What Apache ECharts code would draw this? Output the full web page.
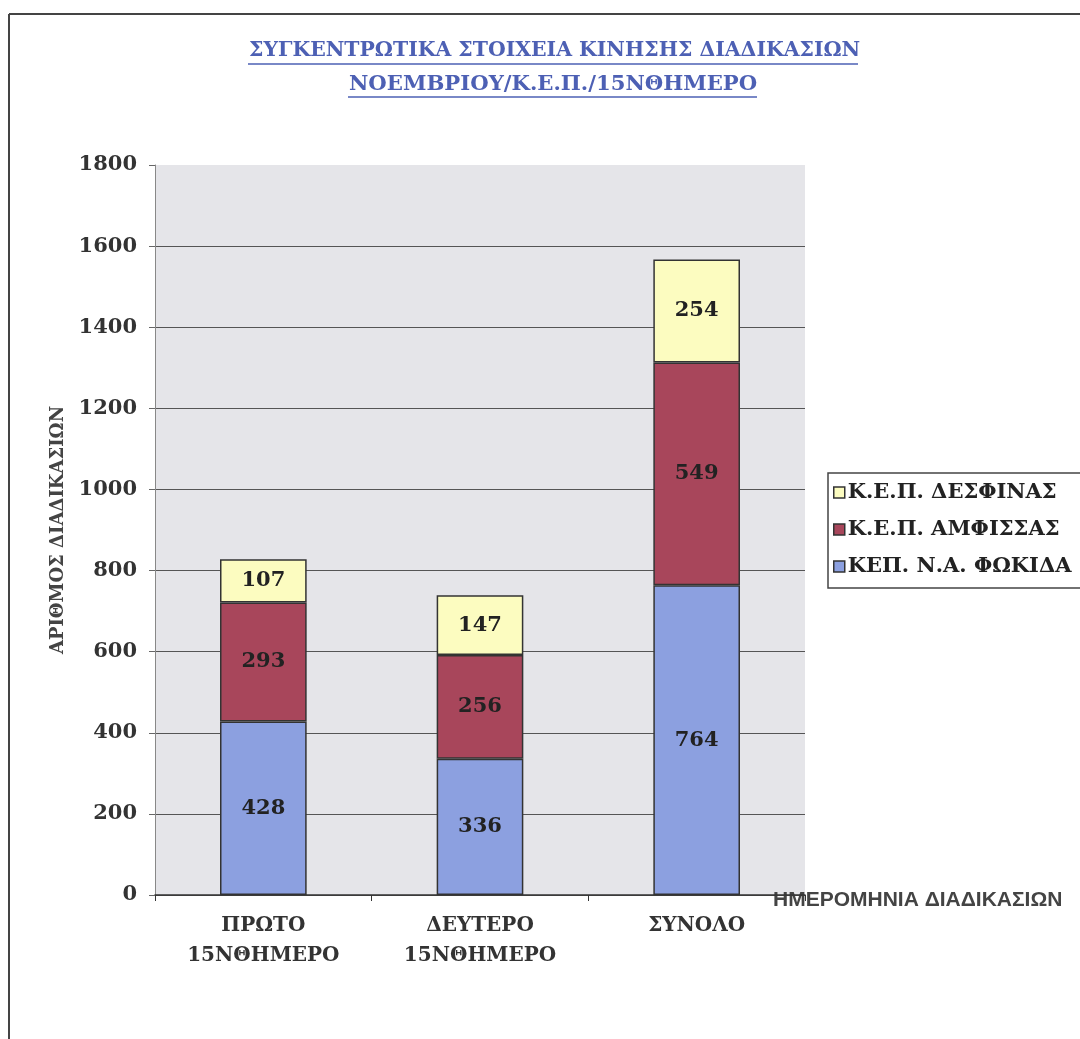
<!DOCTYPE html>
<html>
<head>
<meta charset="utf-8">
<script src="https://cdn.jsdelivr.net/npm/echarts@6/dist/echarts.min.js"></script>
<style>html,body{margin:0;padding:0;background:#fff;}#c{width:1080px;height:1039px;}</style>
</head>
<body>
<div id="c"></div>
<script>
const categories = ['ΠΡΩΤΟ\n15ΝΘΗΜΕΡΟ', 'ΔΕΥΤΕΡΟ\n15ΝΘΗΜΕΡΟ', 'ΣΥΝΟΛΟ'];
const seriesNames = ['ΚΕΠ. Ν.Α. ΦΩΚΙΔΑ', 'Κ.Ε.Π. ΑΜΦΙΣΣΑΣ', 'Κ.Ε.Π. ΔΕΣΦΙΝΑΣ'];
const fokida = [428, 336, 764];
const amfissa = [293, 256, 549];
const desfina = [107, 147, 254];
const yTicks = [0, 200, 400, 600, 800, 1000, 1200, 1400, 1600, 1800];
const titleLines = ['ΣΥΓΚΕΝΤΡΩΤΙΚΑ ΣΤΟΙΧΕΙΑ ΚΙΝΗΣΗΣ ΔΙΑΔΙΚΑΣΙΩΝ', 'ΝΟΕΜΒΡΙΟΥ/Κ.Ε.Π./15ΝΘΗΜΕΡΟ'];

const chart = echarts.init(document.getElementById('c'));
const serif = '"DejaVu Serif", serif';
const colors = ['#8ca0e0', '#a8465b', '#fcfcc0'];
const titleColor = '#4d60b4';
const labelStyle = {show: true, position: 'inside', color: '#222', fontFamily: serif, fontWeight: 'bold', fontSize: 21};
const splitColors = yTicks.map((v, i) => i === yTicks.length - 1 ? 'rgba(0,0,0,0)' : '#555');

chart.setOption({
  animation: false,
  backgroundColor: '#fff',
  title: [
    {text: titleLines[0], left: 249, top: 41, padding: 0, textStyle: {color: titleColor, fontFamily: serif, fontWeight: 'bold', fontSize: 20.4}},
    {text: titleLines[1], left: 349, top: 74, padding: 0, textStyle: {color: titleColor, fontFamily: serif, fontWeight: 'bold', fontSize: 21.2}}
  ],
  graphic: [
    {type: 'line', shape: {x1: 9, y1: 14, x2: 1080, y2: 14}, style: {stroke: '#444', lineWidth: 2}},
    {type: 'line', shape: {x1: 9, y1: 14, x2: 9, y2: 1039}, style: {stroke: '#444', lineWidth: 2}},
    {type: 'line', shape: {x1: 248, y1: 64, x2: 858, y2: 64}, style: {stroke: titleColor, lineWidth: 1.5}},
    {type: 'line', shape: {x1: 348, y1: 97, x2: 757, y2: 97}, style: {stroke: titleColor, lineWidth: 1.5}}
  ],
  legend: {
    orient: 'vertical', left: 828, top: 473,
    data: [seriesNames[2], seriesNames[1], seriesNames[0]],
    icon: 'rect', itemWidth: 11, itemHeight: 11, itemGap: 16, itemStyle: {borderWidth: 1.5},
    borderColor: '#444', borderWidth: 1.5, padding: [9, 10, 11, 5],
    textStyle: {color: '#222', fontFamily: serif, fontWeight: 'bold', fontSize: 21, padding: [0, 0, 0, -2]}
  },
  grid: {left: 155, right: 275, top: 165, bottom: 144, show: true, backgroundColor: '#e5e5e9', borderWidth: 0},
  xAxis: {
    type: 'category', data: categories,
    name: 'ΗΜΕΡΟΜΗΝΙΑ ΔΙΑΔΙΚΑΣΙΩΝ', nameLocation: 'end', nameGap: -32,
    nameTextStyle: {color: '#444', fontFamily: '"Liberation Sans", Arial, sans-serif', fontWeight: 'bold', fontSize: 21, verticalAlign: 'top', align: 'left', padding: [-5, 0, 0, 0]},
    axisLine: {lineStyle: {color: '#333', width: 1.5}},
    axisTick: {show: true, length: 6, lineStyle: {color: '#333'}},
    axisLabel: {color: '#333', fontFamily: serif, fontWeight: 'bold', fontSize: 20, lineHeight: 30, margin: 16}
  },
  yAxis: {
    type: 'value', min: 0, max: 1800, interval: 200,
    name: 'ΑΡΙΘΜΟΣ ΔΙΑΔΙΚΑΣΙΩΝ', nameLocation: 'middle', nameGap: 86, nameRotate: 90,
    nameTextStyle: {color: '#444', fontFamily: serif, fontWeight: 'bold', fontSize: 18},
    axisLine: {show: true, lineStyle: {color: '#888', width: 1}},
    axisTick: {show: true, length: 6, lineStyle: {color: '#666'}},
    axisLabel: {color: '#333', fontFamily: serif, fontWeight: 'bold', fontSize: 21, margin: 18, formatter: v => String(v)},
    splitLine: {show: true, lineStyle: {color: splitColors, width: 1}}
  },
  series: [
    {name: seriesNames[0], type: 'bar', stack: 's', data: fokida, barCategoryGap: '60%', itemStyle: {color: colors[0], borderColor: '#333', borderWidth: 1.5}, label: labelStyle},
    {name: seriesNames[1], type: 'bar', stack: 's', data: amfissa, itemStyle: {color: colors[1], borderColor: '#333', borderWidth: 1.5}, label: labelStyle},
    {name: seriesNames[2], type: 'bar', stack: 's', data: desfina, itemStyle: {color: colors[2], borderColor: '#333', borderWidth: 1.5}, label: labelStyle}
  ]
});
</script>
</body>
</html>
